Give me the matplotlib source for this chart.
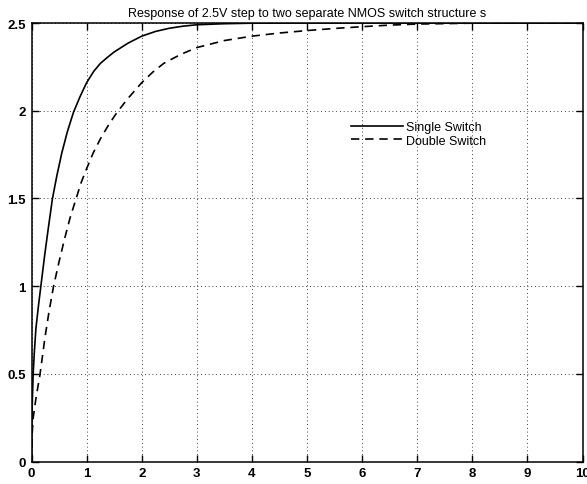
import numpy as np
import matplotlib
matplotlib.use('Agg')
import matplotlib.pyplot as plt

plt.rcParams['font.family'] = ['Liberation Sans', 'DejaVu Sans']

# step response, single NMOS switch (time, volts)
t_single = [0, 0.005, 0.015, 0.03, 0.05, 0.08, 0.13, 0.185, 0.24, 0.3, 0.38,
            0.46, 0.55, 0.65, 0.76, 0.88, 1.0, 1.13, 1.25, 1.38, 1.5, 1.75,
            2.0, 2.25, 2.5, 2.75, 3.0, 3.5, 4.0, 5.0, 6.0, 7.0, 8.0, 9.0, 10.0]
v_single = [0, 0.2, 0.35, 0.5, 0.62, 0.76, 0.9, 1.04, 1.18, 1.32, 1.5,
            1.63, 1.76, 1.88, 1.99, 2.08, 2.16, 2.225, 2.27, 2.305, 2.335, 2.385,
            2.425, 2.452, 2.47, 2.482, 2.49, 2.496, 2.499, 2.5, 2.5, 2.5, 2.5, 2.5, 2.5]

# step response, double NMOS switch
t_double = [0, 0.01, 0.03, 0.08, 0.155, 0.245, 0.32, 0.4, 0.5, 0.6, 0.7, 0.81,
            0.9, 1.0, 1.12, 1.25, 1.4, 1.55, 1.75, 2.0, 2.2, 2.4, 2.7, 3.0,
            3.5, 4.0, 4.5, 5.0, 5.5, 6.0, 6.5, 7.0, 8.0, 9.0, 10.0]
v_double = [0, 0.15, 0.25, 0.36, 0.5, 0.71, 0.86, 1.0, 1.14, 1.27, 1.39, 1.5,
            1.59, 1.67, 1.76, 1.84, 1.92, 1.99, 2.07, 2.16, 2.22, 2.27, 2.32, 2.36,
            2.40, 2.425, 2.443, 2.457, 2.469, 2.479, 2.488, 2.494, 2.499, 2.5, 2.5]

x_ticks = np.arange(0, 11, 1)
y_ticks = [0, 0.5, 1, 1.5, 2, 2.5]
y_labels = ['0', '0.5', '1', '1.5', '2', '2.5']

fig = plt.figure(figsize=(5.87, 4.85), dpi=100)
ax = fig.add_axes([0.0537, 0.046, 0.9387, 0.9045])

ax.plot(t_single, v_single, color='black', lw=1.2, label='Single Switch')
ax.plot(t_double, v_double, color='black', lw=1.2, linestyle=(0, (5, 3.5)),
        label='Double Switch')

ax.set_xlim(0, 10)
ax.set_ylim(0, 2.5)
ax.set_xticks(x_ticks)
ax.set_yticks(y_ticks)
ax.set_xticklabels([str(v) for v in x_ticks], fontweight='bold')
ax.set_yticklabels(y_labels, fontweight='bold')
ax.tick_params(direction='in', top=True, right=True, length=5, width=1,
               labelsize=9.5, pad=4)
ax.grid(True, color='black', linestyle=(0, (1, 3.5)), linewidth=0.6)
for s in ax.spines.values():
    s.set_linewidth(1.1)

ax.set_title('Response of 2.5V step to two separate NMOS switch structure s',
             fontsize=9, pad=5)

ax.legend(loc='upper left', bbox_to_anchor=(0.568, 0.79), frameon=False,
          fontsize=9, handlelength=4.2, handletextpad=0.2, labelspacing=0.1,
          borderpad=0)

fig.savefig('out.png', dpi=100)
